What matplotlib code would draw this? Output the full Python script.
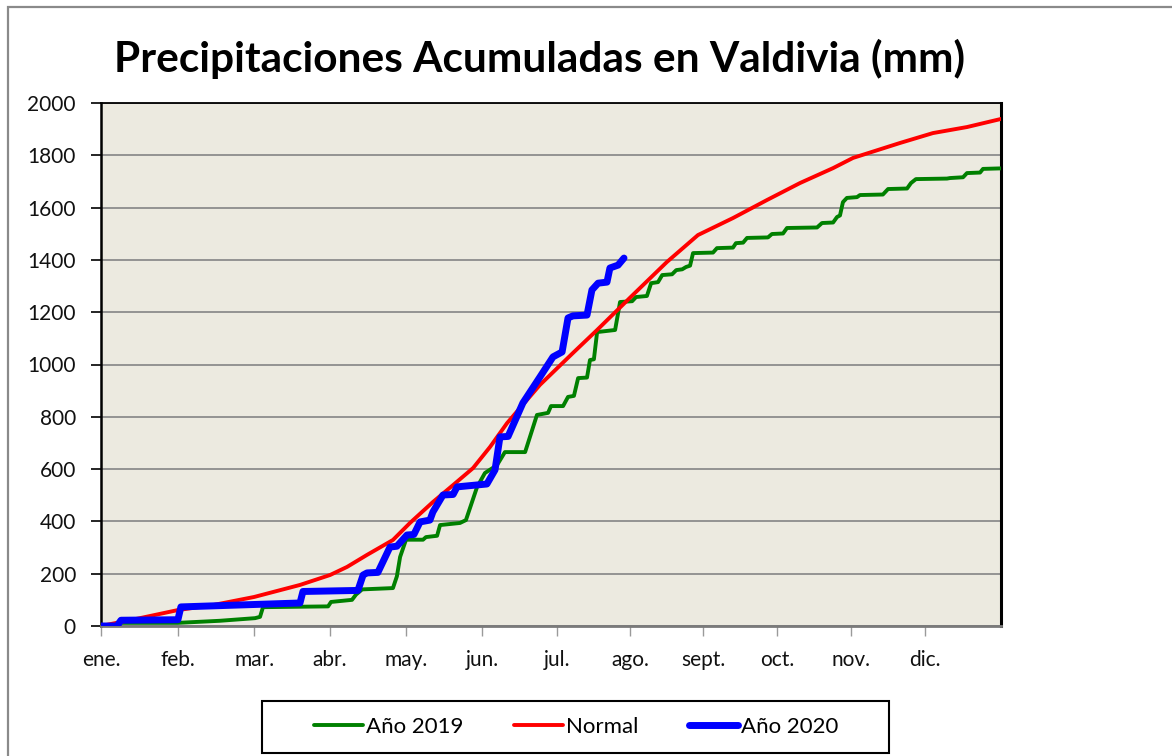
import matplotlib
matplotlib.use("Agg")
import matplotlib.pyplot as plt
from matplotlib.patches import Rectangle

# ---- data (day of year, accumulated mm) ----
month_labels = ["ene.", "feb.", "mar.", "abr.", "may.", "jun.", "jul.", "ago.",
                "sept.", "oct.", "nov.", "dic."]
month_ticks = [0, 31.2, 62.1, 92.9, 123.7, 154.6, 185.0, 214.6, 244.2, 274.2, 304.2, 334.0]

day_2019 = [0, 6.9, 8.1, 31.2, 48.3, 62.5, 64.5, 65.7, 92.1, 93.3, 101.8, 103.4, 105.9,
            118.4, 120.0, 121.3, 123.7, 130.6, 131.8, 136.3, 137.5, 145.6, 148.0, 152.5,
            155.7, 160.6, 163.8, 172.0, 176.8, 181.3, 182.5, 187.4, 189.4, 191.8, 193.5,
            197.1, 198.3, 199.9, 201.2, 208.5, 210.5, 215.4, 217.0, 221.4, 223.1, 225.9,
            227.6, 231.6, 233.3, 235.7, 237.3, 238.9, 240.1, 248.2, 249.8, 256.3, 257.5,
            260.4, 262.0, 270.5, 272.1, 276.6, 278.2, 290.4, 292.4, 296.9, 298.5, 299.7,
            300.9, 302.5, 306.6, 307.8, 317.1, 319.2, 326.9, 328.5, 330.5, 343.1, 344.3,
            349.6, 351.2, 356.5, 357.7, 365]
mm_2019 = [0, 0, 12, 12, 20, 30, 35, 72, 75, 92, 100, 120, 140,
           145, 190, 264, 330, 330, 340, 345, 386, 394, 405, 531,
           585, 615, 665, 665, 807, 815, 841, 841, 876, 880, 948,
           950, 1017, 1020, 1124, 1132, 1239, 1242, 1258, 1262, 1311, 1315,
           1342, 1345, 1361, 1364, 1373, 1378, 1426, 1428, 1445, 1447, 1464,
           1466, 1484, 1486, 1499, 1501, 1522, 1524, 1541, 1543, 1564, 1570,
           1621, 1637, 1640, 1648, 1650, 1671, 1673, 1694, 1709, 1711, 1713,
           1716, 1732, 1734, 1748, 1750]

day_normal = [0, 15.8, 31.2, 45.4, 62.1, 80.7, 92.9, 99.8, 107.9, 118.4, 125.3, 134.6,
              142.8, 150.9, 157.8, 164.7, 178.0, 191.4, 201.2, 214.5, 229.5, 242.1,
              256.3, 270.1, 283.5, 296.9, 305.0, 324.0, 337.4, 351.2, 365]
mm_normal = [0, 30, 61, 80, 111, 157, 195, 226, 272, 329, 394, 474,
             539, 604, 685, 776, 922, 1044, 1132, 1255, 1392, 1495,
             1560, 1629, 1694, 1751, 1790, 1847, 1885, 1908, 1939]

day_2020 = [0, 6.5, 8.1, 31.2, 32.4, 80.7, 81.9, 104.2, 106.3, 107.9, 112.3, 117.2,
            120.0, 124.1, 126.9, 129.4, 133.4, 134.6, 138.7, 142.8, 144.4, 156.5,
            159.8, 161.8, 165.1, 171.1, 178.0, 183.3, 187.0, 189.4, 191.4, 197.1,
            199.1, 201.6, 205.2, 206.4, 209.7, 212.1]
mm_2020 = [0, 0, 22, 24, 73, 88, 132, 136, 195, 203, 205, 302,
           305, 348, 350, 398, 405, 436, 501, 503, 532, 543,
           597, 723, 725, 853, 952, 1029, 1048, 1178, 1186, 1189,
           1285, 1311, 1315, 1369, 1380, 1407]

y_ticks = list(range(0, 2001, 200))

# ---- figure ----
W, H = 1172, 756
fig = plt.figure(figsize=(W / 100, H / 100), dpi=100)
plt.rcParams['font.family'] = ['Lato', 'DejaVu Sans']

# outer chart frame (cropped on right and bottom)
fig.add_artist(Rectangle((8 / W, -0.2), 2.0, 1 - 7 / H + 0.2, transform=fig.transFigure,
                         fill=False, edgecolor="#8a8a8a", linewidth=1.6))

ax = fig.add_axes([101 / W, 1 - 626 / H, 900 / W, 523 / H])
ax.set_facecolor("#ECEAE0")

ax.plot(day_2019, mm_2019, color="#008000", lw=2.8, solid_joinstyle="round",
        solid_capstyle="round", label="Año 2019", zorder=3)
ax.plot(day_normal, mm_normal, color="#FF0000", lw=2.8, solid_joinstyle="round",
        solid_capstyle="round", label="Normal", zorder=4)
ax.plot(day_2020, mm_2020, color="#0000FF", lw=5, solid_joinstyle="round",
        solid_capstyle="round", label="Año 2020", zorder=5)

ax.set_xlim(0, 365)
ax.set_ylim(0, 2000)
ax.set_yticks(y_ticks)
ax.set_xticks(month_ticks)
ax.set_xticklabels(month_labels)
ax.yaxis.grid(True, color="#8c8c8c", lw=1.3)
ax.set_axisbelow(True)

for s in ["left", "right", "top"]:
    ax.spines[s].set_color("black")
ax.spines["left"].set_linewidth(1.8)
ax.spines["right"].set_linewidth(2.2)
ax.spines["top"].set_linewidth(1.3)
ax.spines["bottom"].set_color("#7a7a7a")
ax.spines["bottom"].set_linewidth(2)

ax.tick_params(axis="y", direction="out", length=7, width=1.2, color="black",
               labelsize=15, pad=11, labelcolor="#111111")
ax.tick_params(axis="x", direction="out", length=7, width=1, color="#9a9a9a",
               labelsize=15, pad=10, labelcolor="#111111")

fig.text(540 / W, 1 - 59 / H, "Precipitaciones Acumuladas en Valdivia (mm)",
         ha="center", va="center", fontsize=30.5, fontweight="bold", color="black")

# legend box
fig.add_artist(Rectangle((262 / W, 1 - 753 / H), 627 / W, 52 / H, transform=fig.transFigure,
                         fill=False, edgecolor="black", linewidth=1.5))
leg = fig.legend(loc="center", bbox_to_anchor=(576 / W, 1 - 727 / H), ncol=3,
                 frameon=False, fontsize=16, handlelength=2.2,
                 handletextpad=0.12, columnspacing=2.3, borderpad=0.3)
for line in leg.get_lines():
    line.set_solid_capstyle("round")

fig.savefig("out.png", dpi=100, facecolor="white")
